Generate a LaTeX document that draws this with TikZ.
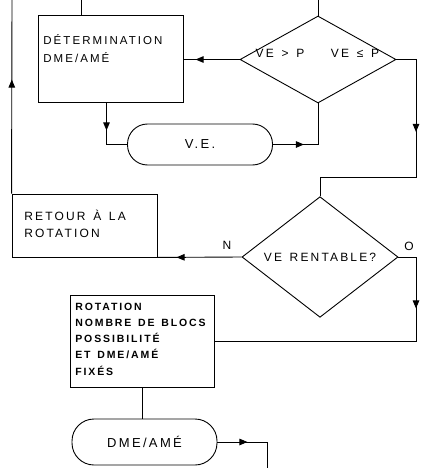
\documentclass[tikz,border=0pt]{standalone}
\usepackage{fontspec}
\newfontfamily\flow{Liberation Sans}[LetterSpace=18,WordSpace=1.4]
\usetikzlibrary{arrows.meta,positioning,shapes.geometric,decorations.markings}

\begin{document}
\begin{tikzpicture}[x=1pt,y=-1pt,font=\flow\fontsize{12}{17}\selectfont,line width=0.9pt,
  >={Triangle[length=8pt,width=6.5pt]},
  b/.style={draw,minimum width=145pt,inner sep=0pt},
  txt/.style={align=left},
  t/.style={draw,rounded corners=20pt,minimum width=145pt,minimum height=41pt,font=\flow\fontsize{13}{15}\selectfont},
  d/.style={draw,diamond,minimum width=156pt,minimum height=87pt,inner sep=0pt},
  tip/.style={postaction={decorate},decoration={markings,mark=at position #1 with {\arrow{>}}}}]
\useasboundingbox (0,0) rectangle (423,468);
% boxes
\node[b,minimum height=87pt](det) at (110.5,58.5){};
\node[txt,below right=16pt and 2pt of det.north west,font=\flow\fontsize{11.5}{18}\selectfont](dett){DÉTERMINATION\\DME/AMÉ};
\node[d](d1) at (318,59.5){};
\node(gt) at (280,53){VE > P};
\node(le) at (355,53){VE ≤ P};
\node[t](ve) at (200,144.5){V.E.};
\node[b,minimum height=63pt](ret) at (84.5,225.5){};
\node[txt,right=9pt of ret.west,yshift=2pt](rett){RETOUR À LA\\ROTATION};
\node[d](d2) at (320,257){VE RENTABLE?};
\node(n) at (227,245){N};
\node(o) at (409,246){O};
\node[b,minimum height=92pt,minimum width=144pt](rot) at (142,341){};
\node[txt,right=2pt of rot.west,yshift=2pt,font=\flow\bfseries\fontsize{10.5}{16.3}\selectfont](rott){ROTATION\\NOMBRE DE BLOCS\\POSSIBILITÉ\\ET DME/AMÉ\\FIXÉS};
\node[t,minimum height=46pt,rounded corners=22pt](dme) at (144.5,442){DME/AMÉ};
% free ends
\coordinate(top1) at (81,0);
\coordinate(top2) at (318,0);
\coordinate(top3) at (12,0);
\coordinate(j1) at (416,177);
\coordinate(j2) at (416,341);
\coordinate(bot) at (267,468);
% connectors
\draw(top1|-det.north)--(top1);
\draw(d1.north)--(top2);
\draw[tip=44pt](d1.west)--(det.east|-d1.west);
\draw[tip=28pt]([xshift=-4pt]det.south)|-(ve.west);
\draw[tip=31pt](ve.east)-|(d1.south);
\draw[tip=92pt](d1.east)-|(j1)-|(d2.north);
\draw[tip=65pt](d2.west)--(ret.south east);
\draw[tip=114pt](ret.north west)--(top3);
\draw[tip=69pt](d2.east)-|(j2)--(rot.east);
\draw(rot.south)--(rot.south|-dme.north);
\draw[tip=30pt](dme.east)-|(bot);
\end{tikzpicture}
\end{document}
